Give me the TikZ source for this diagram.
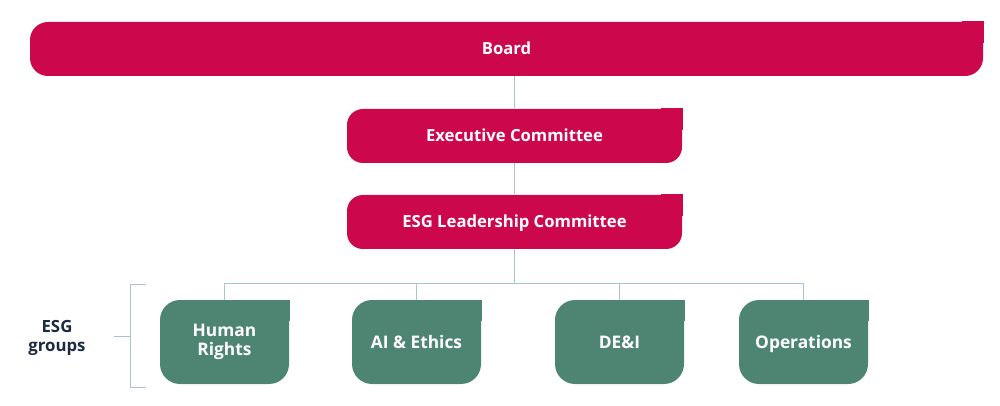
\documentclass[tikz,border=0pt]{standalone}
\usepackage{fontspec}
\setmainfont{Open Sans}
\definecolor{boardred}{HTML}{CC074C}
\definecolor{groupgreen}{HTML}{4E8572}
\definecolor{linkblue}{HTML}{A8C3D4}
\definecolor{labelnavy}{HTML}{1C2B40}
\tikzset{every picture/.style={line width=0.75pt}}

\begin{document}
\begin{tikzpicture}[x=0.75pt,y=0.75pt,yscale=-1,xscale=1,
  redbox/.style={fill=boardred, text=white, font=\bfseries\fontsize{12.5}{14.5}\selectfont, rounded corners=12pt, minimum width=251.25pt, minimum height=40.5pt, inner sep=0pt, text height=9pt, text depth=0pt},
  greenbox/.style={fill=groupgreen, text=white, font=\bfseries\fontsize{13}{14.5}\selectfont, rounded corners=15pt, minimum width=96.75pt, minimum height=63pt, align=center, inner sep=0pt},
  oneline/.style={text height=9.3pt, text depth=0pt},
  link/.style={draw=linkblue}]
\useasboundingbox (0,0) rectangle (1000,406);

%Boxes
\node[redbox, minimum width=714.75pt, rounded corners=13.5pt] (board) at (506.5,49) {Board};
\node[redbox] (exec) at (514.5,136) {Executive Committee};
\node[redbox] (lead) at (514.5,222) {ESG Leadership Committee};
\node[greenbox] (hr) at (224.5,342) {Human\\Rights};
\node[greenbox, oneline] (ai) at (416.5,342) {AI \& Ethics};
\node[greenbox, oneline] (dei) at (619.5,342) {DE\&I};
\node[greenbox, oneline] (ops) at (803.5,342) {Operations};

%square top right corners
\foreach \n/\c in {board/boardred, exec/boardred, lead/boardred, hr/groupgreen, ai/groupgreen, dei/groupgreen, ops/groupgreen}
  \fill[\c] (\n.north east) rectangle ([xshift=-16pt,yshift=16pt]\n.north east);

%Label
\node[text=labelnavy, font=\bfseries\fontsize{12.6}{13.8}\selectfont, align=center] (groups) at (57,338) {ESG\\groups};

%Links
\coordinate (bus) at ([yshift=-12pt]hr.north);
\draw[link] (exec.north) -- (exec.north |- board.south);
\draw[link] (exec.south) -- (lead.north);
\draw[link] (lead.south) -- (lead.south |- bus);
\draw[link] (hr.north) -- (bus) -| (ops.north);
\foreach \n in {ai,dei}
  \draw[link] (\n.north) -- (\n.north |- bus);

%Bracket
\coordinate (brtop) at (146,284);
\coordinate (brbot) at (146,387);
\coordinate (brmid) at (114,336);
\draw[link] (brtop) -- ++(-16,0) -- ++(0,103) -- (brbot);
\draw[link] (brmid) -- ++(16,0);

\end{tikzpicture}
\end{document}
